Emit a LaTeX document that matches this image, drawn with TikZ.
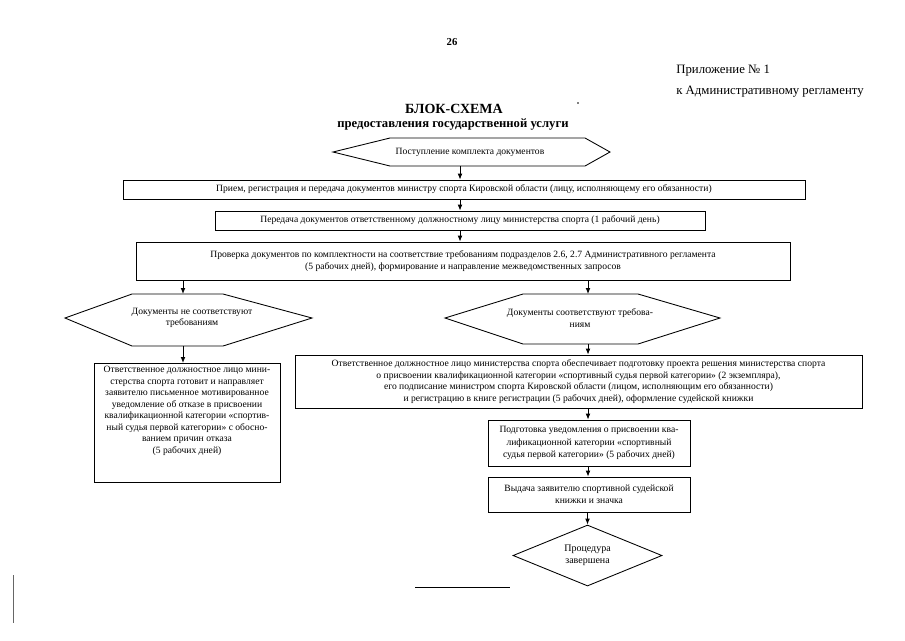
\documentclass[tikz,border=0pt]{standalone}
\usepackage{fontspec}
\setmainfont{Liberation Serif}
\usetikzlibrary{arrows.meta,shapes.geometric}
\def\pxu{0.75pt}
\begin{document}
\begin{tikzpicture}[x=0.75pt,y=-0.75pt,
  box/.style={draw,line width=0.65pt,align=center,inner sep=0pt,font=\fontsize{7.2}{8.6}\selectfont},
  lbl/.style={align=center,inner sep=0pt,font=\fontsize{7.2}{8.6}\selectfont},
  arr/.style={-{Latex[length=4.5pt,width=3.6pt]},line width=0.65pt},
  shp/.style={draw,line width=0.65pt,line join=miter}]
\useasboundingbox (0,0) rectangle (905,640);

% header
\node[inner sep=0pt,font=\bfseries\fontsize{8}{9}\selectfont] (pg) at (452,42) {26};
\node[anchor=base west,inner sep=0pt,font=\fontsize{9.6}{12}\selectfont] (ap1) at (676,73) {Приложение № 1};
\node[anchor=base west,inner sep=0pt,font=\fontsize{9.6}{12}\selectfont] (ap2) at (676,94) {к Административному регламенту};
\node[inner sep=0pt,font=\bfseries\fontsize{10.5}{12}\selectfont] (t1) at (454,109) {БЛОК-СХЕМА};
\node[inner sep=0pt,font=\bfseries\fontsize{9.5}{11}\selectfont] (t2) at (453,124) {предоставления государственной услуги};
\fill (578,103) circle (0.8);

% top hexagon
\draw[shp] (333,152) -- (390,138) -- (585,138) -- (610,152) -- (585,166) -- (390,166) -- cycle;
\node[lbl] (h0) at (470,152) {Поступление комплекта документов};
\coordinate (h0b) at (460,166);

\node[box,minimum width=682*\pxu,minimum height=19*\pxu] (b1) at (464,189.5)
  {Прием, регистрация и передача документов министру спорта Кировской области (лицу, исполняющему его обязанности)};
\node[box,minimum width=490*\pxu,minimum height=19*\pxu] (b2) at (460,220.5)
  {Передача документов ответственному должностному лицу министерства спорта (1 рабочий день)};
\node[box,minimum width=654*\pxu,minimum height=38*\pxu] (b3) at (463,261)
  {Проверка документов по комплектности на соответствие требованиям подразделов 2.6, 2.7 Административного регламента\\
   (5 рабочих дней), формирование и направление межведомственных запросов};

% left hexagon
\draw[shp] (65,318) -- (132,294) -- (223,294) -- (312,318) -- (223,346) -- (132,346) -- cycle;
\node[lbl] (hl) at (192,318) {Документы не соответствуют\\требованиям};
\coordinate (hlt) at (183,294);
\coordinate (hlb) at (183,346);

% right hexagon
\draw[shp] (445,318) -- (523,294) -- (638,294) -- (720,318) -- (638,344) -- (523,344) -- cycle;
\node[lbl] (hr) at (580,318) {Документы соответствуют требова-\\ниям};
\coordinate (hrt) at (588,294);
\coordinate (hrb) at (588,344);

% left box
\node[box,anchor=north,minimum width=186*\pxu,inner ysep=3*\pxu,text depth=20pt] (lb) at (187,363)
  {Ответственное должностное лицо мини-\\стерства спорта готовит и направляет\\заявителю письменное мотивированное\\уведомление об отказе в присвоении\\квалификационной категории «спортив-\\ный судья первой категории» с обосно-\\ванием причин отказа\\(5 рабочих дней)};

% right column
\node[box,minimum width=567*\pxu,minimum height=53*\pxu] (wb) at (578.5,381.5)
  {Ответственное должностное лицо министерства спорта обеспечивает подготовку проекта решения министерства спорта\\
   о присвоении квалификационной категории «спортивный судья первой категории» (2 экземпляра),\\
   его подписание министром спорта Кировской области (лицом, исполняющим его обязанности)\\
   и регистрацию в книге регистрации (5 рабочих дней), оформление судейской книжки};
\node[box,minimum width=202*\pxu,minimum height=46*\pxu,font=\fontsize{7.2}{9.2}\selectfont] (s1) at (589,443)
  {Подготовка уведомления о присвоении ква-\\лификационной категории «спортивный\\судья первой категории» (5 рабочих дней)};
\node[box,minimum width=202*\pxu,minimum height=35*\pxu,font=\fontsize{7.2}{9.2}\selectfont] (s2) at (589,494.5)
  {Выдача заявителю спортивной судейской\\книжки и значка};
\node[draw,diamond,line width=0.65pt,minimum width=149*\pxu,minimum height=61*\pxu,inner sep=0pt,aspect=2.4,
      align=center,font=\fontsize{7.5}{9.2}\selectfont] (d) at (587.5,555.5) {Процедура\\завершена};

% connectors
\draw[arr] (h0b) -- (h0b |- b1.north);
\draw[arr] (b1.south -| h0b) -- (b2.north -| h0b);
\draw[arr] (b2.south -| h0b) -- (b3.north -| h0b);
\draw[arr] (b3.south -| hlt) -- (hlt);
\draw[arr] (b3.south -| hrt) -- (hrt);
\draw[arr] (hlb) -- (hlb |- lb.north);
\draw[arr] (hrb) -- (hrb |- wb.north);
\draw[arr] (wb.south -| hrb) -- (s1.north -| hrb);
\draw[arr] (s1.south -| hrb) -- (s2.north -| hrb);
\draw[arr] (s2.south -| d.north) -- (d.north);

% footnote line and margin mark
\coordinate (fl1) at (415,587);
\coordinate (fl2) at (510,587);
\draw[line width=0.6pt] (fl1) -- (fl2);
\coordinate (vm1) at (13,575);
\coordinate (vm2) at (13,623);
\draw[line width=0.6pt,black!60] (vm1) -- (vm2);
\end{tikzpicture}
\end{document}
